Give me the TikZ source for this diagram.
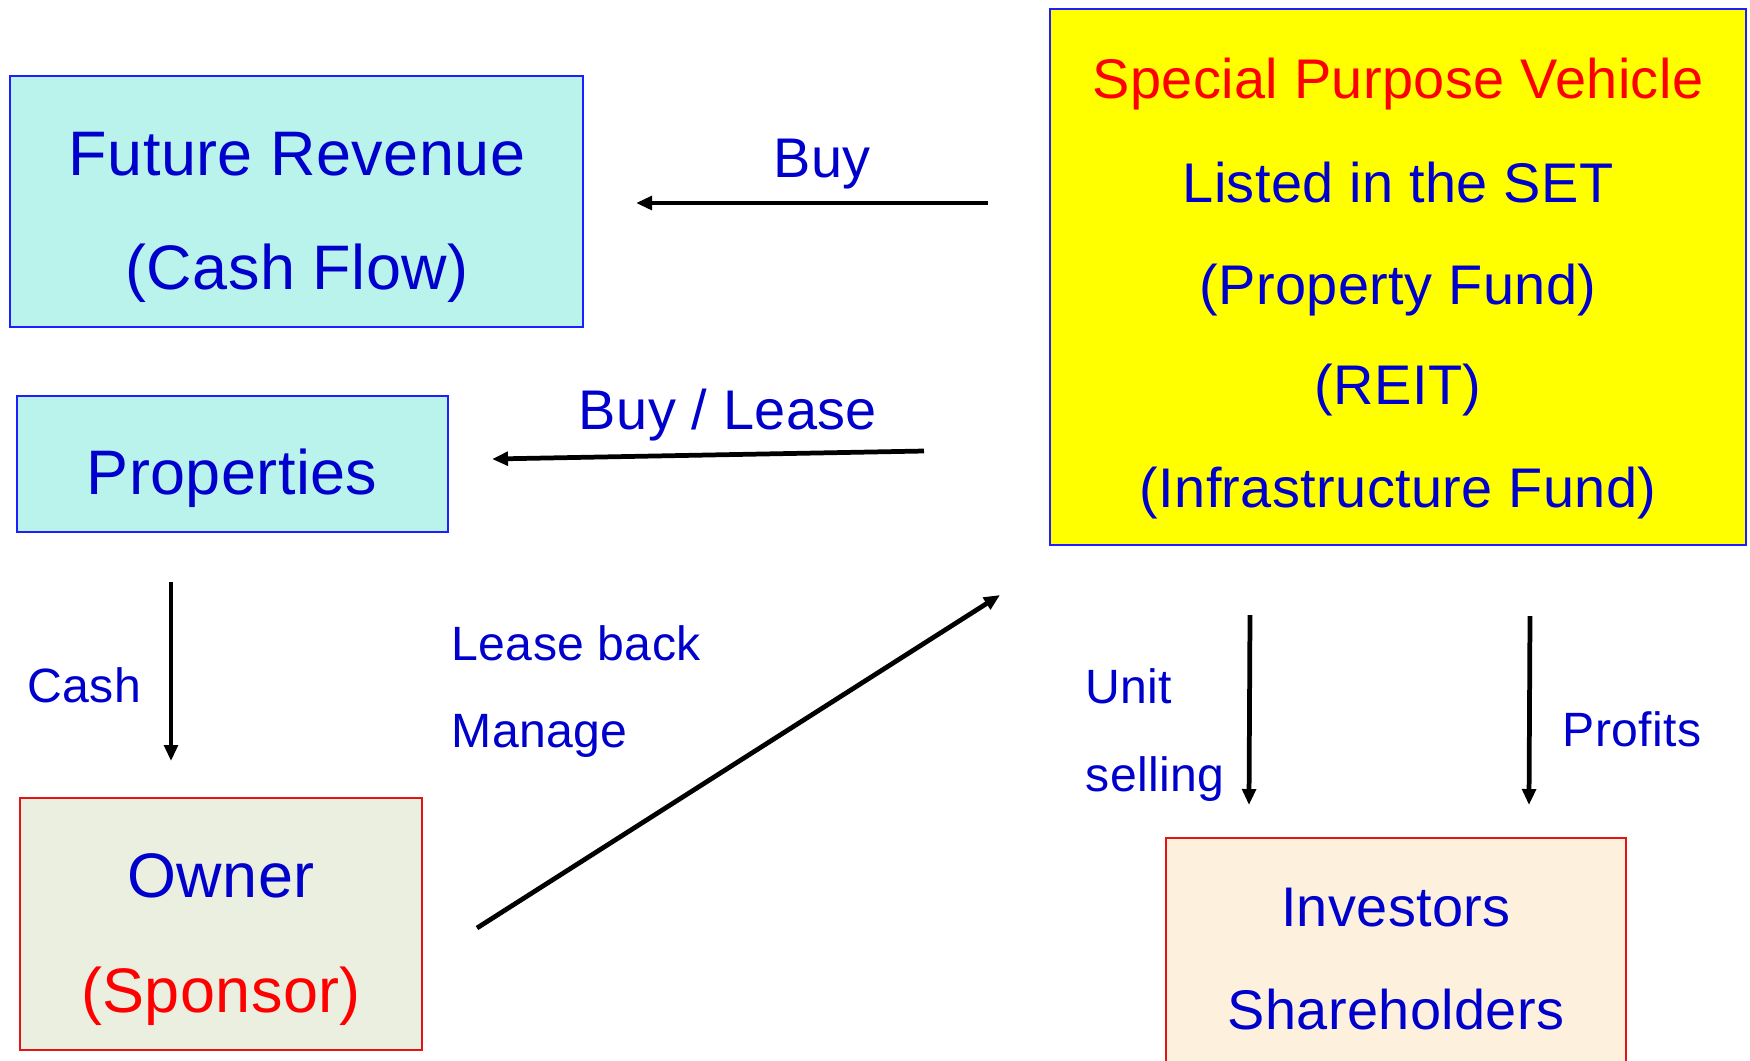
\documentclass[tikz,border=0pt]{standalone}
\usepackage{fontspec}
\setmainfont[LetterSpace=0.7]{Liberation Sans}
\usetikzlibrary{arrows.meta}
\definecolor{txtblue}{RGB}{0,0,204}
\definecolor{txtred}{RGB}{255,0,0}
\definecolor{edgeblue}{RGB}{30,30,255}
\definecolor{edgered}{RGB}{228,20,20}
\definecolor{aquafill}{RGB}{186,242,236}
\definecolor{ownerfill}{RGB}{235,239,224}
\definecolor{investfill}{RGB}{253,241,222}
\definecolor{spvfill}{RGB}{255,255,0}
\begin{document}
\begin{tikzpicture}[x=0.1mm,y=-0.1mm,
  box/.style={rectangle,draw,line width=0.75pt,inner sep=0pt},
  bluebox/.style={box,draw=edgeblue},
  redbox/.style={box,draw=edgered},
  txtbig/.style={anchor=base,inner sep=0pt,text=txtblue,font=\fontsize{17.9}{20}\selectfont},
  txtmid/.style={anchor=base,inner sep=0pt,text=txtblue,font=\fontsize{15.9}{18}\selectfont},
  txtsmall/.style={anchor=base west,inner sep=0pt,text=txtblue,font=\fontsize{13.7}{16}\selectfont},
  flow/.style={line width=1.35pt,-{Triangle[length=1.6mm,width=1.35mm]}}]
\clip (0,0) rectangle (1750,1060);
\fill[white] (0,0) rectangle (1750,1060);

% boxes
\node[bluebox,fill=aquafill,minimum width=57.3mm,minimum height=25.1mm] (rev) at (296.5,201.5) {};
\node[bluebox,fill=aquafill,minimum width=43.1mm,minimum height=13.6mm] (prop) at (232.5,464) {};
\node[redbox,fill=ownerfill,minimum width=40.2mm,minimum height=25.2mm] (owner) at (221,924) {};
\node[bluebox,fill=spvfill,minimum width=69.6mm,minimum height=53.6mm] (spv) at (1398,277) {};
\node[redbox,fill=investfill,minimum width=46mm,minimum height=23.4mm] (inv) at (1396,955) {};

% box texts
\node[txtbig] (rev1) at (297,175) {Future Revenue};
\node[txtbig] (rev2) at (297,289) {(Cash Flow)};
\node[txtbig] (prop1) at (232,494) {Properties};
\node[txtbig] (own1) at (221,897) {Owner};
\node[txtbig,text=txtred] (own2) at (221,1012) {(Sponsor)};
\node[txtmid,text=txtred] (spv1) at (1398,98) {Special Purpose Vehicle};
\node[txtmid] (spv2) at (1398,202) {Listed in the SET};
\node[txtmid] (spv3) at (1398,304) {(Property Fund)};
\node[txtmid] (spv4) at (1398,404) {(REIT)};
\node[txtmid] (spv5) at (1398,507) {(Infrastructure Fund)};
\node[txtmid] (inv1) at (1396,926) {Investors};
\node[txtmid] (inv2) at (1396,1029) {Shareholders};

% flow labels
\node[txtmid] (lbuy) at (822,177) {Buy};
\node[txtmid] (lbuylease) at (728,429) {Buy / Lease};
\node[txtsmall] (lcash) at (27,702) {Cash};
\node[txtsmall] (llease) at (451,660) {Lease back};
\node[txtsmall] (lmanage) at (451,747) {Manage};
\node[txtsmall] (lunit) at (1085,703) {Unit};
\node[txtsmall] (lselling) at (1085,791) {selling};
\node[txtsmall] (lprofits) at (1562,746) {Profits};

% arrow end points
\coordinate (buyS) at (988,203);
\coordinate (buyE) at (636,203);
\coordinate (blS) at (924,451);
\coordinate (blE) at (492,459);
\coordinate (cashS) at (171,582);
\coordinate (cashE) at (171,761);
\coordinate (lbS) at (477,928);
\coordinate (lbE) at (1000,595);
\coordinate (usS) at (1250,615);
\coordinate (usE) at (1249,805);
\coordinate (prS) at (1530,616);
\coordinate (prE) at (1529,805);

% flows
\draw[flow] (buyS) -- (buyE);
\draw[flow] (blS) -- (blE);
\draw[flow] (cashS) -- (cashE);
\draw[flow] (lbS) -- (lbE);
\draw[flow] (usS) -- (usE);
\draw[flow] (prS) -- (prE);
\end{tikzpicture}
\end{document}
